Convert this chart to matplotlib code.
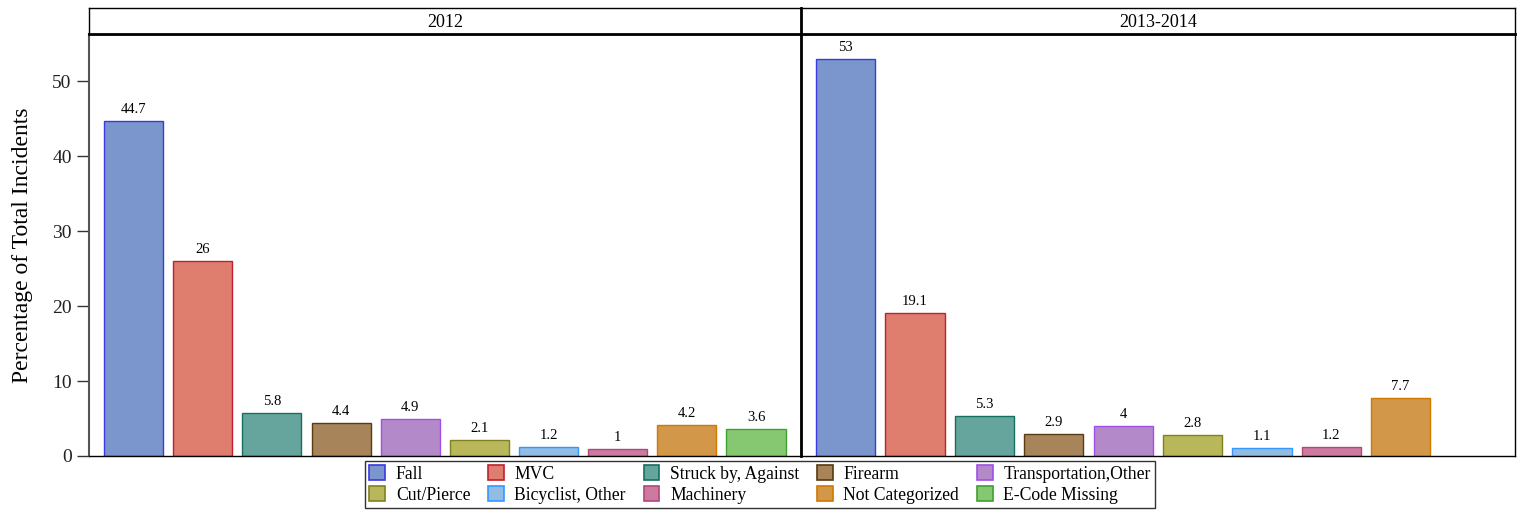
import numpy as np
import matplotlib
matplotlib.use('Agg')
import matplotlib.pyplot as plt
from matplotlib.patches import Patch

categories = ['Fall', 'MVC', 'Struck by, Against', 'Firearm', 'Transportation,Other',
              'Cut/Pierce', 'Bicyclist, Other', 'Machinery', 'Not Categorized', 'E-Code Missing']
panels = ['2012', '2013-2014']
values_2012 = [44.7, 26, 5.8, 4.4, 4.9, 2.1, 1.2, 1, 4.2, 3.6]
values_2013_2014 = [53, 19.1, 5.3, 2.9, 4, 2.8, 1.1, 1.2, 7.7, None]

fills = ['#7b96cc', '#df7d6e', '#66a59e', '#a8845a', '#b489c9',
         '#b8b85a', '#91bce3', '#cd7aa0', '#d3974a', '#86c772']
edges = ['#3a3ae0', '#c02030', '#157060', '#5a3a10', '#a050e8',
         '#808020', '#3399ff', '#b04878', '#d07800', '#40a030']

plt.rcParams['font.family'] = ['Liberation Serif', 'DejaVu Serif']

fig = plt.figure(figsize=(15.22, 5.12), dpi=100)
W, H = 1522, 512

def fx(px):
    return px / W

def fy(px):
    return 1 - px / H

x = np.arange(len(categories))
panel_x = [(89, 801), (801, 1515)]
top, bottom, strip_top = 34, 456, 8

for i, (name, vals) in enumerate(zip(panels, [values_2012, values_2013_2014])):
    x0, x1 = panel_x[i]
    ax = fig.add_axes([fx(x0), fy(bottom), fx(x1 - x0), (bottom - top) / H])
    for xi, v, fc, ec in zip(x, vals, fills, edges):
        if v is None:
            continue
        ax.bar(xi, v, width=0.855, color=fc, edgecolor=ec, linewidth=1.0)
        ax.annotate(f'{v:g}', (xi, v), xytext=(0, 3.5), textcoords='offset points',
                    ha='center', va='bottom', fontsize=10.5)
    ax.set_xlim(-0.645, 9.65)
    ax.set_ylim(0, 56.27)
    ax.set_xticks([])
    for s in ax.spines.values():
        s.set_linewidth(1.0)
        s.set_color('black')
    if i == 0:
        ax.set_yticks([0, 10, 20, 30, 40, 50])
        ax.tick_params(axis='y', length=9, width=1, labelsize=14, colors='#333333',
                       labelcolor='#222222')
        ax.set_ylabel('Percentage of Total Incidents', fontsize=17, labelpad=14)
        ax.spines['left'].set_color('#555555')
        ax.spines['left'].set_linewidth(1.5)
    else:
        ax.set_yticks([])
        ax.spines['left'].set_linewidth(2.0)

    # header strip
    sax = fig.add_axes([fx(x0), fy(top), fx(x1 - x0), (top - strip_top) / H])
    sax.set_xticks([])
    sax.set_yticks([])
    for s in sax.spines.values():
        s.set_linewidth(1.0)
    sax.spines['bottom'].set_linewidth(2.0)
    if i == 1:
        sax.spines['left'].set_linewidth(2.0)
    sax.text(0.5, 0.45, name, ha='center', va='center', fontsize=13,
             transform=sax.transAxes)

handles = [Patch(facecolor=fc, edgecolor=ec, linewidth=1.2, label=c)
           for c, fc, ec in zip(categories, fills, edges)]
order = [0, 5, 1, 6, 2, 7, 3, 8, 4, 9]
leg = fig.legend([handles[k] for k in order], [categories[k] for k in order],
                 ncol=5, loc='center', bbox_to_anchor=(fx(760), fy(484.5)),
                 fontsize=12.7, frameon=True, fancybox=False, edgecolor='black',
                 handlelength=0.9, handleheight=0.9, handletextpad=0.6,
                 columnspacing=1.0, labelspacing=0.2, borderpad=0.25)
leg.get_frame().set_linewidth(1.0)

fig.savefig('out.png', dpi=100)
